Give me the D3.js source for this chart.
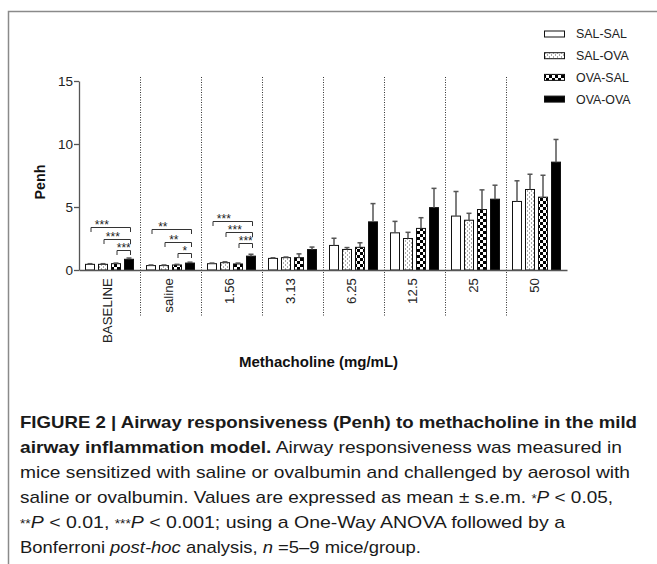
<!DOCTYPE html>
<html><head><meta charset="utf-8">
<script src="https://cdn.jsdelivr.net/npm/d3@7"></script>
<style>
body{margin:0;background:#fff}
svg{display:block;font-family:"Liberation Sans",Arial,Helvetica,sans-serif}
</style>
</head><body>
<svg id="c" width="657" height="564"></svg>
<script>
// ---------- data ----------
const categories = ["BASELINE","saline","1.56","3.13","6.25","12.5","25","50"];
const groups = ["SAL-SAL","SAL-OVA","OVA-SAL","OVA-OVA"];
const meanSalSal = [0.45,0.35,0.50,0.92,1.95,2.95,4.28,5.44];
const meanSalOva = [0.45,0.35,0.58,0.98,1.63,2.50,3.95,6.39];
const meanOvaSal = [0.50,0.40,0.48,0.98,1.80,3.30,4.80,5.78];
const meanOvaOva = [0.85,0.55,1.10,1.62,3.82,4.95,5.62,8.56];
const semSalSal = [0.05,0.05,0.05,0.05,0.57,0.91,1.95,1.64];
const semSalOva = [0.05,0.05,0.07,0.05,0.15,0.49,0.55,1.21];
const semOvaSal = [0.05,0.05,0.07,0.30,0.36,0.85,1.56,1.74];
const semOvaOva = [0.10,0.07,0.15,0.20,1.45,1.53,1.11,1.80];
const yTicks = [0,5,10,15];
const sigBaseline = [
  {from:"SAL-SAL",to:"OVA-OVA",level:3.44,label:"***"},
  {from:"SAL-OVA",to:"OVA-OVA",level:2.44,label:"***"},
  {from:"OVA-SAL",to:"OVA-OVA",level:1.59,label:"***"}];
const sigSaline = [
  {from:"SAL-SAL",to:"OVA-OVA",level:3.23,label:"**"},
  {from:"SAL-OVA",to:"OVA-OVA",level:2.25,label:"**"},
  {from:"OVA-SAL",to:"OVA-OVA",level:1.37,label:"*"}];
const sig156 = [
  {from:"SAL-SAL",to:"OVA-OVA",level:3.91,label:"***"},
  {from:"SAL-OVA",to:"OVA-OVA",level:3.04,label:"***"},
  {from:"OVA-SAL",to:"OVA-OVA",level:2.12,label:"***"}];
const yTitle = "Penh";
const xTitle = "Methacholine (mg/mL)";
const captionLines = [
  [{t:"FIGURE 2 | Airway responsiveness (Penh) to methacholine in the mild",b:1}],
  [{t:"airway inflammation model.",b:1},{t:" Airway responsiveness was measured in"}],
  [{t:"mice sensitized with saline or ovalbumin and challenged by aerosol with"}],
  [{t:"saline or ovalbumin. Values are expressed as mean \u00b1 s.e.m. "},{t:"*",s:1},{t:"P",i:1},{t:" < 0.05,"}],
  [{t:"**",s:1},{t:"P",i:1},{t:" < 0.01, "},{t:"***",s:1},{t:"P",i:1},{t:" < 0.001; using a One-Way ANOVA followed by a"}],
  [{t:"Bonferroni "},{t:"post-hoc",i:1},{t:" analysis, "},{t:"n",i:1},{t:" =5\u20139 mice/group."}]
];
const captionWidths = [617,602,610,593,545,401];

// ---------- build ----------
const means = [meanSalSal,meanSalOva,meanOvaSal,meanOvaOva];
const sems = [semSalSal,semSalOva,semOvaSal,semOvaOva];
const fills = ["#fff","url(#dots)","url(#checker)","#000"];
const sigs = {"BASELINE":sigBaseline,"saline":sigSaline,"1.56":sig156};

const svg = d3.select("#c");
const defs = svg.append("defs");
const pd = defs.append("pattern").attr("id","dots").attr("patternUnits","userSpaceOnUse")
  .attr("width",4).attr("height",4);
pd.append("rect").attr("width",4).attr("height",4).attr("fill","#fff");
pd.append("rect").attr("x",1).attr("y",0.5).attr("width",1).attr("height",1).attr("fill","#555");
pd.append("rect").attr("x",3).attr("y",2.5).attr("width",1).attr("height",1).attr("fill","#555");
const pc = defs.append("pattern").attr("id","checker").attr("patternUnits","userSpaceOnUse")
  .attr("width",6).attr("height",6);
pc.append("rect").attr("width",6).attr("height",6).attr("fill","#fff");
pc.append("rect").attr("x",0).attr("y",0).attr("width",3).attr("height",3).attr("fill","#000");
pc.append("rect").attr("x",3).attr("y",3).attr("width",3).attr("height",3).attr("fill","#000");

// frame
svg.append("path").attr("d","M8.5,570V11.5H665").attr("fill","none")
  .attr("stroke","#8a8a8a").attr("stroke-width",1.5);

const x = d3.scaleBand().domain(categories).range([79,567]);
const xg = d3.scaleBand().domain(groups).range([6,55]).paddingInner(3/13);
const y = d3.scaleLinear().domain([0,15]).range([270,81]);

// separators
svg.append("g").selectAll("line").data(categories.slice(1)).join("line")
  .attr("x1",d=>Math.round(x(d))+0.5).attr("x2",d=>Math.round(x(d))+0.5)
  .attr("y1",77).attr("y2",317)
  .attr("stroke","#333").attr("stroke-width",1).attr("stroke-dasharray","1,1.5");

// bars
const cells = [];
categories.forEach((c,ci)=>groups.forEach((g,gi)=>cells.push({c,g,gi,m:means[gi][ci],s:sems[gi][ci]})));
const bx = d=>Math.round(x(d.c)+xg(d.g));
svg.append("g").selectAll("rect").data(cells).join("rect")
  .attr("x",d=>bx(d)+0.5).attr("y",d=>y(d.m))
  .attr("width",xg.bandwidth()-1).attr("height",d=>y(0)-y(d.m))
  .attr("fill",d=>fills[d.gi]).attr("stroke","#111").attr("stroke-width",1);

// error bars
const eg = svg.append("g").attr("stroke","#555").attr("stroke-width",1.5).attr("fill","none");
cells.forEach(d=>{
  const cx = bx(d)+xg.bandwidth()/2;
  eg.append("line").attr("x1",cx).attr("x2",cx).attr("y1",y(d.m)).attr("y2",y(d.m+d.s));
  eg.append("line").attr("x1",cx-2.5).attr("x2",cx+2.5).attr("y1",y(d.m+d.s)).attr("y2",y(d.m+d.s));
});

// significance brackets
const sg = svg.append("g");
Object.keys(sigs).forEach(c=>{
  sigs[c].forEach(s=>{
    const x1 = x(c)+xg(s.from)+xg.bandwidth()/2+1;
    const x2 = x(c)+xg(s.to)+xg.bandwidth()/2+1.5;
    const yy = Math.round(y(s.level))+0.5;
    sg.append("path").attr("d",`M${x1},${yy+4.5}V${yy}H${x2}V${yy+4.5}`)
      .attr("fill","none").attr("stroke","#333").attr("stroke-width",1);
    const w = x2-x1;
    sg.append("text").attr("x",(x1+x2)/2-Math.max(0,w-14)*0.35).attr("y",yy+1.5)
      .attr("text-anchor","middle").attr("font-size",12).attr("fill","#222").text(s.label);
  });
});

// axes
const ya = svg.append("g").attr("transform","translate(79,0)")
  .call(d3.axisLeft(y).tickValues(yTicks).tickSize(5).tickSizeOuter(0).tickPadding(1));
ya.select(".domain").attr("stroke","#555").attr("stroke-width",1.3);
ya.selectAll(".tick line").attr("stroke","#555").attr("stroke-width",1.3);
ya.selectAll("text").attr("font-size",13.5).attr("fill","#222").attr("font-family",null);

const xa = svg.append("g").attr("transform","translate(0,270)")
  .call(d3.axisBottom(x).tickSize(0).tickSizeOuter(0));
xa.select(".domain").attr("stroke","#555").attr("stroke-width",1.3);
xa.selectAll("text").attr("font-size",13.3).attr("fill","#222").attr("font-family",null)
  .attr("transform","rotate(-90)").attr("text-anchor","end")
  .attr("x",-8).attr("y",0).attr("dy","0.22em");

svg.append("text").attr("transform","translate(45,182) rotate(-90)")
  .attr("text-anchor","middle").attr("font-weight","bold").attr("font-size",14.3)
  .attr("fill","#111").text(yTitle);
svg.append("text").attr("x",318.5).attr("y",367).attr("text-anchor","middle")
  .attr("font-weight","bold").attr("font-size",15).attr("fill","#111").text(xTitle);

// legend
const lg = svg.append("g");
groups.forEach((g,i)=>{
  const yy = 34 + i*21.7;
  lg.append("rect").attr("x",544.5).attr("y",yy-3).attr("width",20).attr("height",6)
    .attr("fill",fills[i]).attr("stroke","#111").attr("stroke-width",1);
  lg.append("text").attr("x",576).attr("y",yy).attr("dy","0.36em")
    .attr("font-size",12.4).attr("fill","#222").text(g);
});

// caption
captionLines.forEach((segs,li)=>{
  const t = svg.append("text").attr("x",20).attr("y",428+li*25)
    .attr("font-size",17).attr("fill","#1a1a1a")
    .attr("textLength",captionWidths[li]).attr("lengthAdjust","spacingAndGlyphs");
  segs.forEach(s=>{
    const ts = t.append("tspan").text(s.t);
    if(s.b) ts.attr("font-weight","bold");
    if(s.i) ts.attr("font-style","italic");
    if(s.s) ts.attr("font-size",12);
  });
});
</script>
</body></html>
